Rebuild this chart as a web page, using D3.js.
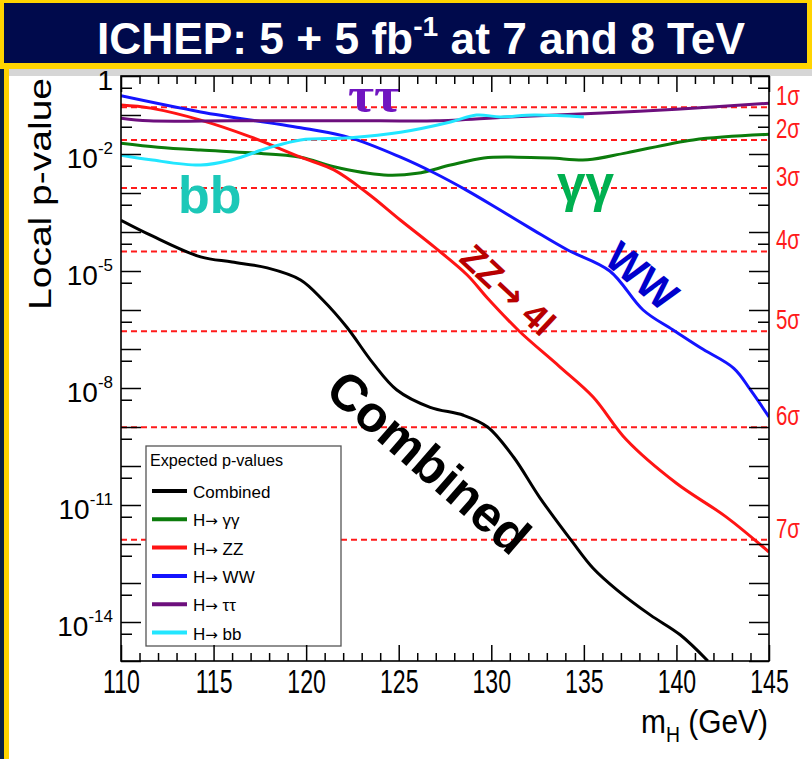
<!DOCTYPE html>
<html>
<head>
<meta charset="utf-8">
<script src="https://cdn.jsdelivr.net/npm/d3@7"></script>
<style>
  body { margin: 0; background: #fff; }
  svg { display: block; font-family: "Liberation Sans", Arial, sans-serif; }
</style>
</head>
<body>
<script>
// expected local p-values (mass in GeV)
let massCombined = [110, 111.6, 114.3, 116, 117.9, 119.7, 120.9, 122.2, 123.6, 124.9, 126.7, 128.5, 129.8, 131.2, 132.6, 134.4, 135.5, 136.8, 138.6, 140.2, 141.7]
let pCombined = [2.0e-4, 8.3e-5, 2.3e-5, 1.7e-5, 1.2e-5, 5.9e-6, 1.8e-6, 3.6e-7, 4.4e-8, 8.9e-9, 3.2e-9, 2.0e-9, 1.0e-9, 1.7e-10, 1.6e-11, 1.1e-12, 2.4e-13, 6.6e-14, 1.5e-14, 4.7e-15, 1.0e-15]

let massGG = [110, 112, 114.3, 117, 119.7, 121.5, 124.2, 126, 127.8, 129.6, 131.4, 133.2, 135.2, 137.3, 140.9, 145]
let pGG = [1.9e-2, 1.5e-2, 1.26e-2, 1.07e-2, 8.3e-3, 4.7e-3, 2.9e-3, 3.2e-3, 5.2e-3, 7.9e-3, 8.3e-3, 7.9e-3, 7.1e-3, 1.07e-2, 2.3e-2, 3.2e-2]

let massZZ = [110, 111.6, 114.3, 117, 119.7, 121.5, 123.3, 125.1, 126.9, 128.7, 129.8, 131.5, 133.7, 135.5, 137.3, 140, 142.7, 145]
let pZZ = [1.8e-1, 1.5e-1, 7.4e-2, 2.75e-2, 8.3e-3, 3.9e-3, 1.0e-3, 2.0e-4, 4.2e-5, 7.9e-6, 2.0e-6, 2.9e-7, 3.5e-8, 5.9e-9, 4.7e-10, 3.6e-11, 4.9e-12, 6.2e-13]

let massWW = [110, 114.3, 119.7, 122.4, 125.1, 126.9, 128.7, 130.5, 132.3, 134.1, 136.4, 138.2, 139.8, 141.3, 143.1, 144, 145]
let pWW = [3.1e-1, 1.2e-1, 4.7e-2, 2.6e-2, 8.3e-3, 3.3e-3, 1.15e-3, 3.6e-4, 1.1e-4, 3.5e-5, 1.0e-5, 1.0e-6, 3.1e-7, 1.07e-7, 3.2e-8, 8.9e-9, 1.8e-9]

let massTT = [110, 111.5, 116, 120, 124, 127, 131, 136, 140, 145]
let pTT = [8.3e-2, 7.1e-2, 7.1e-2, 7.1e-2, 7.1e-2, 7.1e-2, 8.9e-2, 1.12e-1, 1.4e-1, 2.0e-1]

let massBB = [110, 111.6, 114.3, 116, 117.9, 119.7, 122.4, 125.1, 127.8, 129.2, 130.5, 132.3, 135]
let pBB = [9.3e-3, 7.1e-3, 5.2e-3, 7.1e-3, 1.4e-2, 2.3e-2, 2.6e-2, 3.6e-2, 6.6e-2, 1.0e-1, 8.9e-2, 1.0e-1, 8.9e-2]

// one-sided p-values of the significance lines
let sigmaP = [1.587e-1, 2.275e-2, 1.35e-3, 3.167e-5, 2.867e-7, 9.866e-10, 1.280e-12]
let sigmaLabels = ['1σ', '2σ', '3σ', '4σ', '5σ', '6σ', '7σ']

let xTickLabels = [110, 115, 120, 125, 130, 135, 140, 145]
let yLabelExps = [0, -2, -5, -8, -11, -14]

let legendDecays = ['', 'γγ', 'ZZ', 'WW', 'ττ', 'bb']
let seriesColors = ['#000000', '#0c7c0c', '#ff1414', '#1414ff', '#6d0f7d', '#22e6ff']

let series = [
  [massCombined, pCombined], [massGG, pGG], [massZZ, pZZ],
  [massWW, pWW], [massTT, pTT], [massBB, pBB]
].map(([m, p], i) => ({ decay: legendDecays[i], color: seriesColors[i], pts: m.map((v, j) => [v, p[j]]) }))

let W = 812, H = 759
let plot = { left: 121, right: 769, top: 76, bottom: 661 }
let arrowFont = '"DejaVu Sans", sans-serif'

let svg = d3.select('body').append('svg').attr('width', W).attr('height', H)

// page frame: navy + yellow strips, title bar
svg.append('rect').attr('width', W).attr('height', H).attr('fill', '#fff')
svg.append('rect').attr('x', 0).attr('y', 0).attr('width', 4).attr('height', H).attr('fill', '#0b2245')
svg.append('rect').attr('x', 4).attr('y', 0).attr('width', 5).attr('height', H).attr('fill', '#ffd400')
svg.append('rect').attr('x', 0).attr('y', 0).attr('width', W).attr('height', 69).attr('fill', '#ffd400')
svg.append('rect').attr('x', 4).attr('y', 3).attr('width', 803).attr('height', 60).attr('fill', '#000a4c')
svg.append('rect').attr('x', 9).attr('y', 69).attr('width', W - 9).attr('height', 7).attr('fill', '#d6d6d6')

let title = svg.append('text')
  .attr('x', 421).attr('y', 54)
  .attr('text-anchor', 'middle')
  .attr('fill', '#fff').attr('font-weight', 'bold').attr('font-size', 44)
  .attr('textLength', 648).attr('lengthAdjust', 'spacingAndGlyphs')
title.append('tspan').text('ICHEP: 5 + 5 fb')
title.append('tspan').text('-1').attr('font-size', 28).attr('dy', -18)
title.append('tspan').text(' at 7 and 8 TeV').attr('dy', 18)

/* scales */
let x = d3.scaleLinear().domain([110, 145]).range([plot.left, plot.right])
let y = d3.scaleLog().domain([1e-15, 1]).range([plot.bottom, plot.top])

svg.append('clipPath').attr('id', 'clip').append('rect')
  .attr('x', plot.left).attr('y', plot.top)
  .attr('width', plot.right - plot.left).attr('height', plot.bottom - plot.top)

/* sigma lines */
svg.append('g').selectAll('line')
  .data(sigmaP)
  .enter().append('line')
  .attr('x1', plot.left).attr('x2', plot.right)
  .attr('y1', d => y(d)).attr('y2', d => y(d))
  .attr('stroke', '#ff1a1a').attr('stroke-width', 2)
  .attr('stroke-dasharray', '6,4')

svg.append('g').selectAll('text')
  .data(sigmaP)
  .enter().append('text')
  .attr('x', 776).attr('y', d => y(d) - 2)
  .attr('fill', '#ff1a1a').attr('font-size', 27)
  .attr('textLength', 24).attr('lengthAdjust', 'spacingAndGlyphs')
  .text((d, i) => sigmaLabels[i])

/* curves */
let line = d3.line()
  .x(d => x(d[0]))
  .y(d => y(d[1]))
  .curve(d3.curveCatmullRom.alpha(0.5))

svg.append('g').attr('clip-path', 'url(#clip)')
  .selectAll('path')
  .data(series)
  .enter().append('path')
  .attr('d', d => line(d.pts))
  .attr('fill', 'none')
  .attr('stroke', d => d.color)
  .attr('stroke-width', 3)
  .attr('stroke-linejoin', 'round')

/* legend */
let legend = svg.append('g')
legend.append('rect')
  .attr('x', 146).attr('y', 446).attr('width', 195).attr('height', 200)
  .attr('fill', '#fff').attr('stroke', '#555').attr('stroke-width', 1.3)
legend.append('text')
  .attr('x', 150).attr('y', 466)
  .attr('font-size', 16).attr('textLength', 133).attr('lengthAdjust', 'spacingAndGlyphs')
  .text('Expected p-values')
let items = legend.selectAll('.item')
  .data(series)
  .enter().append('g')
  .attr('class', 'item')
  .attr('transform', (d, i) => 'translate(0,' + (491 + i * 28.3) + ')')
items.append('line')
  .attr('x1', 152).attr('x2', 187)
  .attr('stroke', d => d.color).attr('stroke-width', 4)
let itemText = items.append('text')
  .attr('x', 193).attr('y', 7)
  .attr('font-size', 17)
itemText.filter(d => d.decay === '').text('Combined')
let decayText = itemText.filter(d => d.decay !== '')
decayText.append('tspan').text('H')
decayText.append('tspan').attr('font-family', arrowFont).attr('font-size', 15).text('→')
decayText.append('tspan').text(d => ' ' + d.decay)

/* channel labels on the plot */
svg.append('text')
  .attr('x', 374).attr('y', 112)
  .attr('text-anchor', 'middle')
  .attr('font-family', '"Liberation Serif", "DejaVu Serif", serif')
  .attr('font-weight', 'bold').attr('font-size', 50)
  .attr('textLength', 52).attr('lengthAdjust', 'spacingAndGlyphs')
  .attr('fill', '#7015c0')
  .text('ττ')

svg.append('text')
  .attr('x', 178).attr('y', 213)
  .attr('font-weight', 'bold').attr('font-size', 52)
  .attr('fill', '#1cc8b8')
  .text('bb')

svg.append('text')
  .attr('x', 557).attr('y', 201)
  .attr('font-weight', 'bold').attr('font-size', 52)
  .attr('textLength', 57).attr('lengthAdjust', 'spacingAndGlyphs')
  .attr('fill', '#00b050')
  .text('γγ')

let zzLabel = svg.append('text')
  .attr('transform', 'translate(508,290) rotate(43)')
  .attr('text-anchor', 'middle').attr('dy', '0.35em')
  .attr('font-weight', 'bold').attr('font-size', 36)
  .attr('fill', '#b80000')
zzLabel.append('tspan').text('ZZ')
zzLabel.append('tspan').attr('font-family', arrowFont).text('→')
zzLabel.append('tspan').text(' 4l')

svg.append('text')
  .attr('transform', 'translate(642,276) rotate(40)')
  .attr('text-anchor', 'middle').attr('dy', '0.35em')
  .attr('font-weight', 'bold').attr('font-size', 42)
  .attr('fill', '#0000cc')
  .text('WW')

svg.append('text')
  .attr('transform', 'translate(429,462) rotate(41)')
  .attr('text-anchor', 'middle').attr('dy', '0.35em')
  .attr('font-weight', 'bold').attr('font-size', 51)
  .attr('fill', '#000')
  .text('Combined')

/* axes: ticks inside on all four sides */
let majorX = xTickLabels
let minorX = d3.range(111, 145).filter(v => v % 5 !== 0)
let majorY = d3.range(-15, 1).map(e => Math.pow(10, e))
let minorY = d3.range(-15, 0).map(e => 5 * Math.pow(10, e))

function tickAxis(axis, transform) {
  svg.append('g')
    .attr('transform', transform)
    .call(axis)
    .call(g => g.select('.domain').remove())
    .call(g => g.selectAll('.tick line').attr('stroke', '#000').attr('stroke-width', 1.5))
}

tickAxis(d3.axisBottom(x).tickValues(minorX).tickSize(-8).tickFormat(''), 'translate(0,' + plot.bottom + ')')
tickAxis(d3.axisTop(x).tickValues(minorX).tickSize(-8).tickFormat(''), 'translate(0,' + plot.top + ')')
tickAxis(d3.axisTop(x).tickValues(majorX).tickSize(-16).tickFormat(''), 'translate(0,' + plot.top + ')')
tickAxis(d3.axisLeft(y).tickValues(majorY).tickSize(-20).tickFormat(''), 'translate(' + plot.left + ',0)')
tickAxis(d3.axisLeft(y).tickValues(minorY).tickSize(-11).tickFormat(''), 'translate(' + plot.left + ',0)')
tickAxis(d3.axisRight(y).tickValues(majorY).tickSize(-20).tickFormat(''), 'translate(' + plot.right + ',0)')
tickAxis(d3.axisRight(y).tickValues(minorY).tickSize(-11).tickFormat(''), 'translate(' + plot.right + ',0)')

let xAxisG = svg.append('g')
  .attr('transform', 'translate(0,' + plot.bottom + ')')
  .call(d3.axisBottom(x).tickValues(majorX).tickSize(-16).tickPadding(8).tickFormat(d3.format('d')))
xAxisG.select('.domain').remove()
xAxisG.selectAll('.tick line').attr('stroke', '#000').attr('stroke-width', 1.5)
xAxisG.selectAll('.tick text')
  .attr('fill', '#000')
  .attr('font-size', 34)
  .attr('font-family', '"Liberation Sans", Arial, sans-serif')
  .attr('transform', 'scale(0.68,1)')

// frame
svg.append('rect')
  .attr('x', plot.left).attr('y', plot.top)
  .attr('width', plot.right - plot.left).attr('height', plot.bottom - plot.top)
  .attr('fill', 'none').attr('stroke', '#000').attr('stroke-width', 1.6)

// y tick labels 1, 10^-2, 10^-5 ...
let yLab = svg.append('g').selectAll('text')
  .data(yLabelExps)
  .enter().append('text')
  .attr('x', 113)
  .attr('y', e => y(Math.pow(10, e)) + 14)
  .attr('text-anchor', 'end')
  .attr('font-size', 28)
yLab.append('tspan').text(e => e === 0 ? '1' : '10')
yLab.filter(e => e !== 0).append('tspan')
  .attr('font-size', 17).attr('dy', -14)
  .text(e => String(e))

// axis titles
svg.append('text')
  .attr('transform', 'translate(51,194) rotate(-90)')
  .attr('text-anchor', 'middle')
  .attr('font-size', 31)
  .attr('textLength', 232).attr('lengthAdjust', 'spacingAndGlyphs')
  .text('Local p-value')

let xTitle = svg.append('g')
  .attr('transform', 'translate(768,733) scale(0.88,1)')
  .append('text')
  .attr('text-anchor', 'end')
  .attr('font-size', 34)
xTitle.append('tspan').text('m')
xTitle.append('tspan').text('H').attr('font-size', 22).attr('dy', 9)
xTitle.append('tspan').text(' (GeV)').attr('dy', -9)
</script>
</body>
</html>
